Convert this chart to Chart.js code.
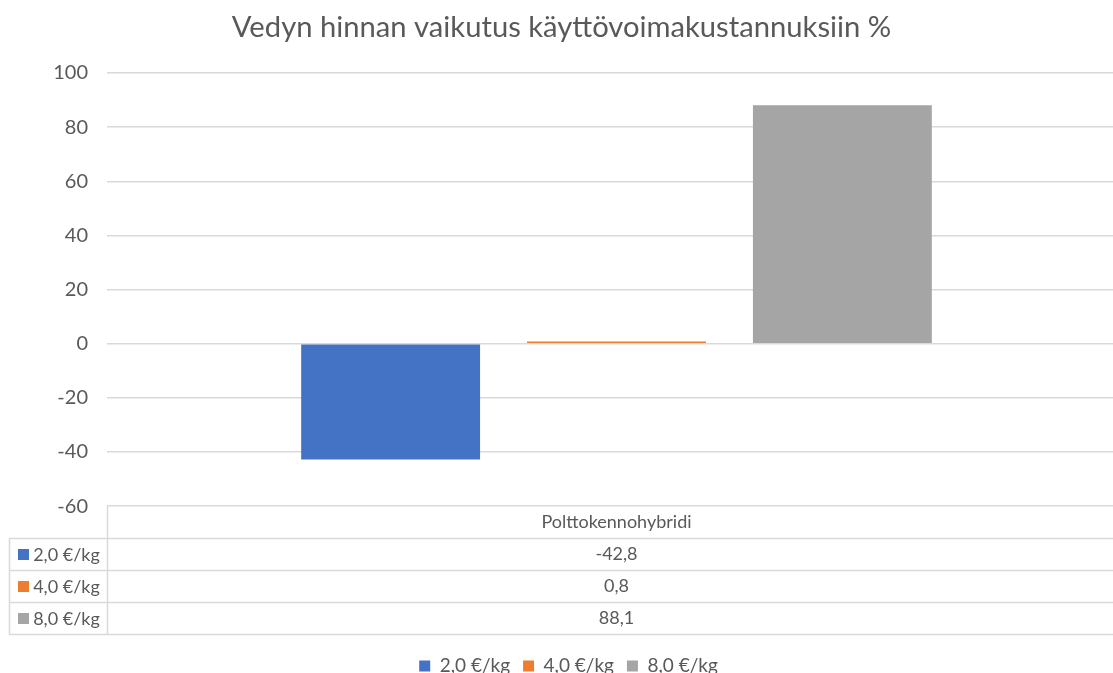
<!DOCTYPE html>
<html>
<head>
<meta charset="utf-8">
<script src="https://cdn.jsdelivr.net/npm/chart.js@4/dist/chart.umd.min.js"></script>
<style>
  html, body { margin: 0; padding: 0; background: #ffffff; }
  #wrap { width: 1113px; height: 673px; }
</style>
</head>
<body>
<div id="wrap"><canvas id="c" width="1113" height="673"></canvas></div>
<script>
// ---- data ----
const titleText = 'Vedyn hinnan vaikutus käyttövoimakustannuksiin %';
const categories = ['Polttokennohybridi'];
const seriesNames = ['2,0 €/kg', '4,0 €/kg', '8,0 €/kg'];
const seriesA = [-42.8];
const seriesB = [0.8];
const seriesC = [88.1];
const seriesColors = ['#4472C4', '#ED7D31', '#A5A5A5'];
const yTicks = [-60, -40, -20, 0, 20, 40, 60, 80, 100];

const seriesValues = [seriesA, seriesB, seriesC];
const textColor = '#595959';
const gridColor = '#D9D9D9';
const fontFamily = 'Lato, "Open Sans", "Liberation Sans", sans-serif';
const tableHeight = 128;
const plotWidth = 1019; // plot area extends past the right edge of the picture

function fmt(v) { return v.toFixed(1).replace('.', ','); }

const widenPlugin = {
  id: 'widen',
  afterLayout(chart) {
    const xs = chart.scales.x;
    xs.right = xs.left + plotWidth;
    xs.width = plotWidth;
    xs.configure();
    if (chart.legend) { chart.legend.left += 12; chart.legend.right += 12; }
    if (chart.titleBlock) { chart.titleBlock.left += 5; chart.titleBlock.right += 5; }
  }
};

const dataTablePlugin = {
  id: 'dataTable',
  afterDraw(chart) {
    const ctx = chart.ctx;
    const area = chart.chartArea;
    const xScale = chart.scales.x;
    const top = area.bottom;
    const rows = seriesNames.length + 1;
    const rowH = tableHeight / rows;
    const bottom = top + tableHeight;
    const left = area.left;
    const right = chart.width;
    const outerLeft = 9;
    ctx.save();
    ctx.strokeStyle = gridColor;
    ctx.lineWidth = 1.5;
    for (let r = 1; r <= rows; r++) {
      const y = Math.round(top + r * rowH) + 0.5;
      ctx.beginPath();
      ctx.moveTo(outerLeft, y);
      ctx.lineTo(right, y);
      ctx.stroke();
    }
    ctx.beginPath();
    ctx.moveTo(left + 0.5, top);
    ctx.lineTo(left + 0.5, Math.round(bottom) + 0.5);
    ctx.stroke();
    ctx.beginPath();
    ctx.moveTo(outerLeft + 0.5, Math.round(top + rowH) + 0.5);
    ctx.lineTo(outerLeft + 0.5, Math.round(bottom) + 0.5);
    ctx.stroke();

    ctx.font = '18px ' + fontFamily;
    ctx.fillStyle = textColor;
    ctx.textBaseline = 'middle';
    ctx.textAlign = 'center';
    categories.forEach((cat, i) => {
      const cx = xScale.getPixelForValue(i);
      ctx.fillStyle = textColor;
      ctx.fillText(cat, cx, top + rowH / 2);
      seriesValues.forEach((vals, s) => {
        ctx.fillText(fmt(vals[i]), cx, top + rowH * (s + 1.5));
      });
    });
    const box = 11;
    seriesNames.forEach((name, s) => {
      const cy = top + rowH * (s + 1.5);
      ctx.textAlign = 'left';
      const tw = ctx.measureText(name).width;
      const total = box + 4 + tw;
      const start = (outerLeft + left) / 2 - total / 2 + 1;
      ctx.fillStyle = seriesColors[s];
      ctx.fillRect(Math.round(start), Math.round(cy - box / 2), box, box);
      ctx.fillStyle = textColor;
      ctx.fillText(name, start + box + 4, cy + 1);
    });
    ctx.restore();
  }
};

const datasets = seriesNames.map((name, s) => ({
  label: name,
  data: seriesValues[s],
  backgroundColor: seriesColors[s],
  borderWidth: 0,
  barPercentage: 0.792,
  categoryPercentage: 0.665
}));

new Chart(document.getElementById('c'), {
  type: 'bar',
  data: { labels: categories, datasets },
  options: {
    responsive: false,
    animation: false,
    devicePixelRatio: 1,
    layout: { padding: { left: 0, right: 0, top: 0, bottom: -12.5 } },
    plugins: {
      title: {
        display: true,
        text: titleText,
        color: textColor,
        font: { family: fontFamily, size: 29.2, weight: 'normal' },
        padding: { top: 10, bottom: 28 }
      },
      legend: {
        position: 'bottom',
        labels: {
          boxWidth: 11,
          boxHeight: 11,
          padding: 13,
          color: textColor,
          font: { family: fontFamily, size: 19 }
        }
      },
      tooltip: { enabled: false }
    },
    scales: {
      x: {
        display: true,
        grid: { display: false },
        border: { display: false },
        ticks: { display: false },
        afterFit(scale) { scale.height = 137.4; }
      },
      y: {
        min: -60,
        max: 100,
        afterBuildTicks(scale) { scale.ticks = yTicks.map(v => ({ value: v })); },
        afterFit(scale) { scale.width = 107; },
        grid: { color: gridColor, lineWidth: 1.5, drawTicks: false },
        border: { display: false },
        ticks: {
          padding: 19,
          color: textColor,
          font: { family: fontFamily, size: 20 },
          callback: (v) => String(v)
        }
      }
    }
  },
  plugins: [widenPlugin, dataTablePlugin]
});
</script>
</body>
</html>
